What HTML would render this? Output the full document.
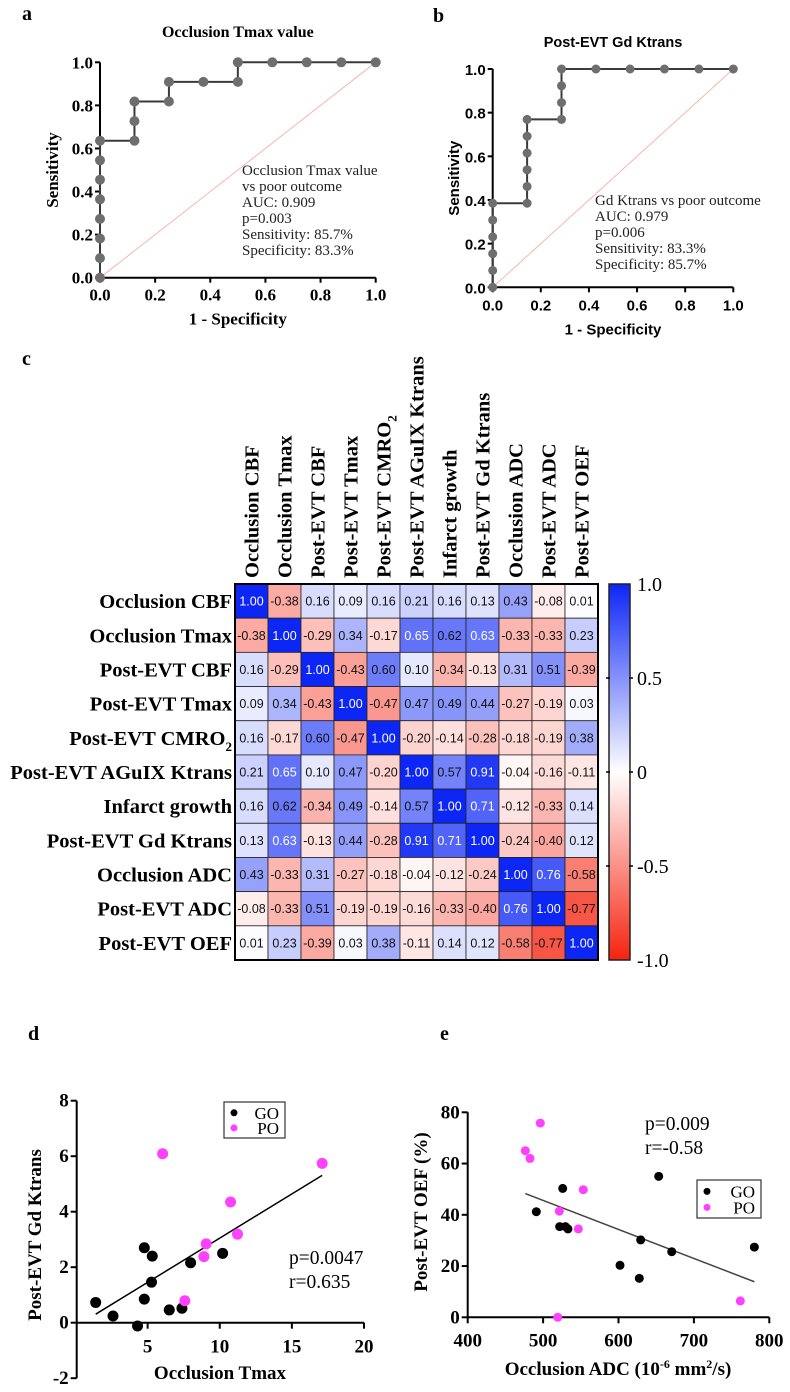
<!DOCTYPE html>
<html><head><meta charset="utf-8"><style>
html,body{margin:0;padding:0;background:#fff;}
svg{display:block;}
</style></head><body>
<svg id="fig" width="790" height="1392" viewBox="0 0 790 1392" xmlns="http://www.w3.org/2000/svg">
<g font-family="Liberation Serif, serif" font-weight="bold">
<text x="22" y="20" font-size="20">a</text>
<text x="433" y="22" font-size="20">b</text>
<text x="22" y="365" font-size="20">c</text>
<text x="28" y="1040" font-size="20">d</text>
<text x="440" y="1040" font-size="20">e</text>
</g>
<g id="pa"></g>
<g id="pb"></g>
<g id="pc"></g>
<g id="pd"></g>
<g id="pe"></g>
</svg>
<script>
// ---------- data ----------
const rocAFpr = [0,0,0,0,0,0,0,0,0.125,0.125,0.125,0.25,0.25,0.375,0.5,0.5,0.625,0.75,0.875,1];
const rocATpr = [0,0.091,0.182,0.273,0.364,0.455,0.545,0.636,0.636,0.727,0.818,0.818,0.909,0.909,0.909,1,1,1,1,1];
const rocBFpr = [0,0,0,0,0,0,0.143,0.143,0.143,0.143,0.143,0.143,0.286,0.286,0.286,0.286,0.429,0.571,0.714,0.857,1];
const rocBTpr = [0,0.077,0.154,0.231,0.308,0.385,0.385,0.462,0.538,0.615,0.692,0.769,0.769,0.846,0.923,1,1,1,1,1,1];
const rocTicks = ["0.0","0.2","0.4","0.6","0.8","1.0"];
const rocANote = ["Occlusion Tmax value","vs poor outcome","AUC: 0.909","p=0.003","Sensitivity: 85.7%","Specificity: 83.3%"];
const rocBNote = ["Gd Ktrans vs poor outcome","AUC: 0.979","p=0.006","Sensitivity: 83.3%","Specificity: 85.7%"];

const corrLabels = ["Occlusion CBF","Occlusion Tmax","Post-EVT CBF","Post-EVT Tmax","Post-EVT CMRO2","Post-EVT AGuIX Ktrans","Infarct growth","Post-EVT Gd Ktrans","Occlusion ADC","Post-EVT ADC","Post-EVT OEF"];
const corrRow1 = [1.00,-0.38,0.16,0.09,0.16,0.21,0.16,0.13,0.43,-0.08,0.01];
const corrRow2 = [-0.38,1.00,-0.29,0.34,-0.17,0.65,0.62,0.63,-0.33,-0.33,0.23];
const corrRow3 = [0.16,-0.29,1.00,-0.43,0.60,0.10,-0.34,-0.13,0.31,0.51,-0.39];
const corrRow4 = [0.09,0.34,-0.43,1.00,-0.47,0.47,0.49,0.44,-0.27,-0.19,0.03];
const corrRow5 = [0.16,-0.17,0.60,-0.47,1.00,-0.20,-0.14,-0.28,-0.18,-0.19,0.38];
const corrRow6 = [0.21,0.65,0.10,0.47,-0.20,1.00,0.57,0.91,-0.04,-0.16,-0.11];
const corrRow7 = [0.16,0.62,-0.34,0.49,-0.14,0.57,1.00,0.71,-0.12,-0.33,0.14];
const corrRow8 = [0.13,0.63,-0.13,0.44,-0.28,0.91,0.71,1.00,-0.24,-0.40,0.12];
const corrRow9 = [0.43,-0.33,0.31,-0.27,-0.18,-0.04,-0.12,-0.24,1.00,0.76,-0.58];
const corrRow10 = [-0.08,-0.33,0.51,-0.19,-0.19,-0.16,-0.33,-0.40,0.76,1.00,-0.77];
const corrRow11 = [0.01,0.23,-0.39,0.03,0.38,-0.11,0.14,0.12,-0.58,-0.77,1.00];
const cbarTicks = [1,0.5,0,-0.5,-1];
const cbarLabels = ["1.0","0.5","0","-0.5","-1.0"];

const dGoX = [1.4,2.6,4.3,4.77,4.77,5.32,5.27,6.5,7.38,7.98,10.2];
const dGoY = [0.73,0.24,-0.12,0.85,2.7,2.4,1.46,0.46,0.52,2.16,2.5];
const dPoX = [6.04,7.58,8.9,9.06,10.75,11.23,17.1];
const dPoY = [6.09,0.79,2.38,2.84,4.35,3.19,5.74];
const dXTicks = [5,10,15,20];
const dYTicks = [-2,0,2,4,6,8];

const eGoX = [491,526,522,529.5,533,602,627.6,629.4,653.3,670.6,780.2];
const eGoY = [41.2,50.3,35.4,35.4,34.5,20.3,15.2,30.2,55,25.6,27.4];
const ePoX = [496.3,476.4,482.6,553.3,521.5,546.7,519.4,761.6];
const ePoY = [75.8,65,62,49.8,41.4,34.5,0,6.4];
const eXTicks = [400,500,600,700,800];
const eYTicks = [0,20,40,60,80];

// ---------- helpers ----------
const NS="http://www.w3.org/2000/svg";
function mk(parent,tag,attrs,txt){const e=document.createElementNS(NS,tag);for(const k in attrs)e.setAttribute(k,attrs[k]);if(txt!==undefined)e.textContent=txt;parent.appendChild(e);return e;}
function lin(d0,d1,r0,r1){return v=>r0+(v-d0)*(r1-r0)/(d1-d0);}
const SER='"Liberation Serif",serif';

// ---------- ROC ----------
function roc(g,fpr,tpr,o){
  const x=lin(0,1,o.x0,o.x1), y=lin(0,1,o.y0,o.y1);
  const ff=o.font;
  let t=mk(g,'text',{x:(o.x0+o.x1)/2+o.tdx,y:o.ty,'text-anchor':'middle','font-size':o.tfs,'font-weight':'bold','font-family':ff},o.title);
  
  
  let dg=mk(g,'line',{x1:x(0),y1:y(0),x2:x(1),y2:y(1),stroke:'#f6b7ad','stroke-width':1});
  
  
  mk(g,'line',{x1:o.x0,y1:y(0),x2:o.x0,y2:y(1),stroke:'#000','stroke-width':2});
  mk(g,'line',{x1:o.x0,y1:y(0),x2:o.x1,y2:y(0),stroke:'#000','stroke-width':2});
  rocTicks.forEach((lab,i)=>{const v=i/5;
    mk(g,'line',{x1:o.x0-5,y1:y(v),x2:o.x0,y2:y(v),stroke:'#000','stroke-width':2});
    mk(g,'line',{x1:x(v),y1:y(0),x2:x(v),y2:y(0)+5,stroke:'#000','stroke-width':2});
    let a=mk(g,'text',{x:o.x0-7,y:y(v)+6,'text-anchor':'end','font-size':o.fs,'font-weight':'bold','font-family':ff},lab);
    
    
    let b=mk(g,'text',{x:x(v),y:y(0)+23,'text-anchor':'middle','font-size':o.fs,'font-weight':'bold','font-family':ff},lab);
    
    
  });
  let xl=mk(g,'text',{x:(o.x0+o.x1)/2,y:y(0)+47,'text-anchor':'middle','font-size':o.fs,'font-weight':'bold','font-family':ff},'1 - Specificity');
  
  
  const cy=(y(0)+y(1))/2;
  let yl=mk(g,'text',{x:o.ylx,y:cy,'text-anchor':'middle','font-size':o.fs,'font-weight':'bold','font-family':ff,transform:`rotate(-90 ${o.ylx} ${cy})`},'Sensitivity');
  
  
  let d='M'+x(fpr[0])+' '+y(tpr[0]);
  for(let i=1;i<fpr.length;i++){d+=' L'+x(fpr[i])+' '+y(tpr[i]);}
  let p=mk(g,'path',{d:d,fill:'none',stroke:'#3a3a3a','stroke-width':2});
  
  
  for(let i=0;i<fpr.length;i++){
    let c=mk(g,'circle',{cx:x(fpr[i]),cy:y(tpr[i]),r:o.pr,fill:'#6e6e6e'});
    
    
  }
  o.note.forEach((s,i)=>{let n=mk(g,'text',{x:o.nx,y:o.ny+i*16,'font-size':15,'font-family':SER,fill:'#222'},s);
    
    });
}
roc(document.getElementById('pa'),rocAFpr,rocATpr,{x0:100,x1:375.7,y0:277.7,y1:62.3,title:'Occlusion Tmax value',ty:37,tdx:0,tfs:16,fs:17,font:SER,ylx:58,note:rocANote,nx:242,ny:175,pr:5});
roc(document.getElementById('pb'),rocBFpr,rocBTpr,{x0:492.7,x1:733.3,y0:287.3,y1:69,title:'Post-EVT Gd Ktrans',ty:47,tdx:0,tfs:14.5,fs:15,font:'"Liberation Sans",sans-serif',ylx:459,note:rocBNote,nx:595,ny:205,pr:4.5});

// ---------- heatmap ----------
(function(){
  const g=document.getElementById('pc');
  const rows=[corrRow1,corrRow2,corrRow3,corrRow4,corrRow5,corrRow6,corrRow7,corrRow8,corrRow9,corrRow10,corrRow11];
  const L=235,R=598,T=584,B=960, n=corrLabels.length, cw=(R-L)/n, rh=(B-T)/n;
  function col(v){let r,gg,b;
    if(v>=0){r=255+(12-255)*v;gg=255+(38-255)*v;b=255+(245-255)*v;}
    else{const a=-v;r=255+(245-255)*a;gg=255+(35-255)*a;b=255+(15-255)*a;}
    return `rgb(${r|0},${gg|0},${b|0})`;}
  rows.forEach((row,i)=>{row.forEach((v,j)=>{
    let c=mk(g,'rect',{x:L+j*cw,y:T+i*rh,width:cw,height:rh,fill:col(v),stroke:'#222','stroke-width':0.8});
    
    
    let t=mk(g,'text',{x:L+j*cw+cw/2,y:T+i*rh+rh/2+4.5,'text-anchor':'middle','font-size':12.5,'font-family':'"Liberation Sans",sans-serif',fill:v>=0.63?'#fff':'#111'},v.toFixed(2));
    
    
  });});
  mk(g,'rect',{x:L,y:T,width:R-L,height:B-T,fill:'none',stroke:'#000','stroke-width':2});
  corrLabels.forEach((lab,i)=>{
    const yy=T+i*rh+rh/2+7, xx=L+i*cw+cw/2+7;
    const sub=lab.endsWith('CMRO2');
    const base=sub?lab.slice(0,-1):lab;
    let r=mk(g,'text',{x:L-3,y:yy,'text-anchor':'end','font-size':20.5,'font-weight':'bold','font-family':SER},base);
    
    
    if(sub){mk(r,'tspan',{'font-size':13,dy:6},'2');}
    let c=mk(g,'text',{x:xx,y:T-6,'font-size':20.5,'font-weight':'bold','font-family':SER,transform:`rotate(-90 ${xx} ${T-6})`},base);
    
    
    if(sub){mk(c,'tspan',{'font-size':13,dy:6},'2');}
  });
  const cx0=609,cx1=630, cy=lin(1,-1,T,B);
  const defs=mk(g,'defs',{});
  const lg=mk(defs,'linearGradient',{id:'cbg',x1:0,y1:0,x2:0,y2:1});
  [1,0.5,0,-0.5,-1].forEach(v=>mk(lg,'stop',{offset:((1-v)/2),'stop-color':col(v)}));
  let cb=mk(g,'rect',{x:cx0,y:T,width:cx1-cx0,height:B-T,fill:'url(#cbg)',stroke:'#222','stroke-width':1.5});
  
  
  cbarTicks.forEach((v,i)=>{
    if(v!==1&&v!==-1){mk(g,'line',{x1:cx0-3,y1:cy(v),x2:cx0+1,y2:cy(v),stroke:'#000','stroke-width':1.5});mk(g,'line',{x1:cx1-1,y1:cy(v),x2:cx1+3,y2:cy(v),stroke:'#000','stroke-width':1.5});}
    let t=mk(g,'text',{x:637,y:cy(v)+7,'font-size':20,'font-family':SER},cbarLabels[i]);
    
    
  });
})();

// ---------- scatter ----------
function scatter(g,gx,gy,px,py,o){
  const x=lin(o.xd0,o.xd1,o.xr0,o.xr1), y=lin(o.yd0,o.yd1,o.yr0,o.yr1);
  mk(g,'line',{x1:o.yAxisX,y1:y(o.yTicks[0]),x2:o.yAxisX,y2:y(o.yTicks[o.yTicks.length-1]),stroke:'#000','stroke-width':2});
  mk(g,'line',{x1:o.yAxisX,y1:y(o.xAxisY),x2:x(o.xTicks[o.xTicks.length-1]),y2:y(o.xAxisY),stroke:'#000','stroke-width':2});
  o.yTicks.forEach(v=>{mk(g,'line',{x1:o.yAxisX-6,y1:y(v),x2:o.yAxisX,y2:y(v),stroke:'#000','stroke-width':2});
    let t=mk(g,'text',{x:o.yAxisX-8,y:y(v)+6,'text-anchor':'end','font-size':19,'font-weight':'bold','font-family':SER},String(v));
    
    });
  o.xTicks.forEach(v=>{mk(g,'line',{x1:x(v),y1:y(o.xAxisY),x2:x(v),y2:y(o.xAxisY)+6,stroke:'#000','stroke-width':2});
    let t=mk(g,'text',{x:x(v),y:y(o.xAxisY)+o.xtdy,'text-anchor':'middle','font-size':19,'font-weight':'bold','font-family':SER},String(v));
    
    });
  const ax=gx.concat(px), ay=gy.concat(py), n=ax.length;
  const mx=ax.reduce((a,b)=>a+b)/n, my=ay.reduce((a,b)=>a+b)/n;
  let sxy=0,sxx=0; for(let i=0;i<n;i++){sxy+=(ax[i]-mx)*(ay[i]-my);sxx+=(ax[i]-mx)**2;}
  const sl=sxy/sxx, ic=my-sl*mx, lo=Math.min(...ax), hi=Math.max(...ax);
  let rl=mk(g,'line',{x1:x(lo),y1:y(ic+sl*lo),x2:x(hi),y2:y(ic+sl*hi),stroke:o.lineCol,'stroke-width':1.5});
  
  
  gx.forEach((v,i)=>{let c=mk(g,'circle',{cx:x(v),cy:y(gy[i]),r:o.r,fill:'#000'});
    
    });
  px.forEach((v,i)=>{let c=mk(g,'circle',{cx:x(v),cy:y(py[i]),r:o.r,fill:'#ff40ff'});
    
    });
  const L=o.leg;
  let lb=mk(g,'rect',{x:L[0],y:L[1],width:L[2],height:L[3],fill:'none',stroke:'#333','stroke-width':1.2});
  
  
  mk(g,'circle',{cx:L[0]+10,cy:L[1]+L[3]*0.3,r:3.5,fill:'#000'});
  mk(g,'circle',{cx:L[0]+10,cy:L[1]+L[3]*0.72,r:3.5,fill:'#ff40ff'});
  let l1=mk(g,'text',{x:L[0]+L[2]-6,y:L[1]+L[3]*0.3+6,'text-anchor':'end','font-size':17,'font-family':SER},'GO');
  
  
  let l2=mk(g,'text',{x:L[0]+L[2]-6,y:L[1]+L[3]*0.72+6,'text-anchor':'end','font-size':17,'font-family':SER},'PO');
  
  
  o.stats.forEach((s,i)=>{let t=mk(g,'text',{x:o.sx,y:o.sy+i*24,'font-size':19.5,'font-family':SER},s);
    
    });
}
(function(){
  const g=document.getElementById('pd');
  scatter(g,dGoX,dGoY,dPoX,dPoY,{xd0:0,xd1:20,xr0:75.5,xr1:364,yd0:0,yd1:8,yr0:1322.7,yr1:1100.7,yAxisX:76.7,xAxisY:0,xTicks:dXTicks,yTicks:dYTicks,xtdy:30,r:5.5,lineCol:'#000',leg:[224,1102,61,36],stats:['p=0.0047','r=0.635'],sx:289,sy:1264});
  let xl=mk(g,'text',{x:220,y:1379,'text-anchor':'middle','font-size':19,'font-weight':'bold','font-family':SER},'Occlusion Tmax');
  
  
  let yl=mk(g,'text',{x:41,y:1235,'text-anchor':'middle','font-size':19,'font-weight':'bold','font-family':SER,transform:'rotate(-90 41 1235)'},'Post-EVT Gd Ktrans');
  
  
})();
(function(){
  const g=document.getElementById('pe');
  scatter(g,eGoX,eGoY,ePoX,ePoY,{xd0:400,xd1:800,xr0:467.7,xr1:769.3,yd0:0,yd1:80,yr0:1317.3,yr1:1112.3,yAxisX:467.7,xAxisY:0,xTicks:eXTicks,yTicks:eYTicks,xtdy:29,r:4.5,lineCol:'#444',leg:[697,1180,64,38],stats:['p=0.009','r=-0.58'],sx:645,sy:1130});
  let xl=mk(g,'text',{x:618,y:1375,'text-anchor':'middle','font-size':19,'font-weight':'bold','font-family':SER});
  
  
  xl.innerHTML='Occlusion ADC (10<tspan font-size="12" dy="-7">-6</tspan><tspan dy="7"> mm</tspan><tspan font-size="12" dy="-7">2</tspan><tspan dy="7">/s)</tspan>';
  let yl=mk(g,'text',{x:427,y:1212,'text-anchor':'middle','font-size':19,'font-weight':'bold','font-family':SER,transform:'rotate(-90 427 1212)'},'Post-EVT OEF (%)');
  
  
})();
</script>
</body></html>
